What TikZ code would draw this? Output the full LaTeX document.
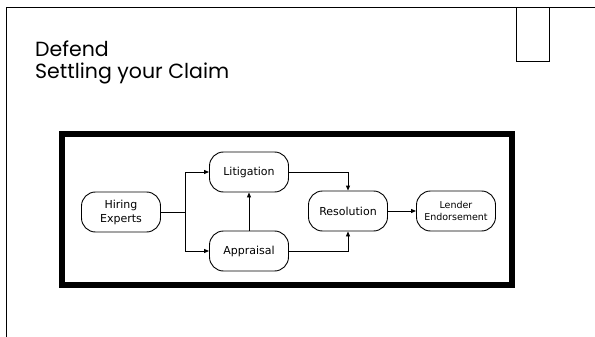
\documentclass[tikz,border=0pt]{standalone}
\usepackage{fontspec}
\setmainfont{DejaVu Sans}
\newfontfamily\titlefont{Poppins}
\usetikzlibrary{arrows.meta}
\tikzset{
    stepbox/.style={draw, line width=0.9pt, rounded corners=14pt, minimum width=79pt,
        minimum height=40pt, align=center, font=\fontsize{11}{14}\selectfont},
    flow/.style={line width=0.9pt, -{Triangle[length=5pt, width=4pt]}},
    titletext/.style={anchor=base west, inner sep=0pt, font=\titlefont\fontsize{20.5}{21}\selectfont}
}

\begin{document}
\begin{tikzpicture}[x=1pt, y=-1pt]
    \useasboundingbox (0,0) rectangle (595,337);

    % Page frame
    \draw[line width=1pt] (6,337) -- (6,8) -- (595,8);
    \draw[line width=1pt] (516,8) -- (516,62) -- (549,62) -- (549,8);

    % Title
    \node[titletext] (title) at (35,57) {Defend};
    \node[titletext] (subtitle) at (35,78) {Settling your Claim};

    % Thick frame
    \draw[line width=6pt] (62,134) rectangle (512,285);

    % Steps
    \node[stepbox] (hiring) at (121,212) {Hiring\\Experts};
    \node[stepbox] (litigation) at (249,172) {Litigation};
    \node[stepbox] (appraisal) at (249,251) {Appraisal};
    \node[stepbox] (resolution) at (348,211) {Resolution};
    \node[stepbox, font=\fontsize{9.5}{12}\selectfont] (lender) at (456,211) {Lender\\Endorsement};

    % Flows
    \coordinate (split) at (185,212);
    \draw[line width=0.9pt] (hiring.east) -- (split);
    \draw[flow] (split) |- (litigation.west);
    \draw[flow] (split) |- (appraisal.west);
    \draw[flow] (appraisal) -- (litigation);
    \draw[flow] (litigation.east) -| (resolution.north);
    \draw[flow] (appraisal.east) -| (resolution.south);
    \draw[flow] (resolution) -- (lender);
\end{tikzpicture}
\end{document}
